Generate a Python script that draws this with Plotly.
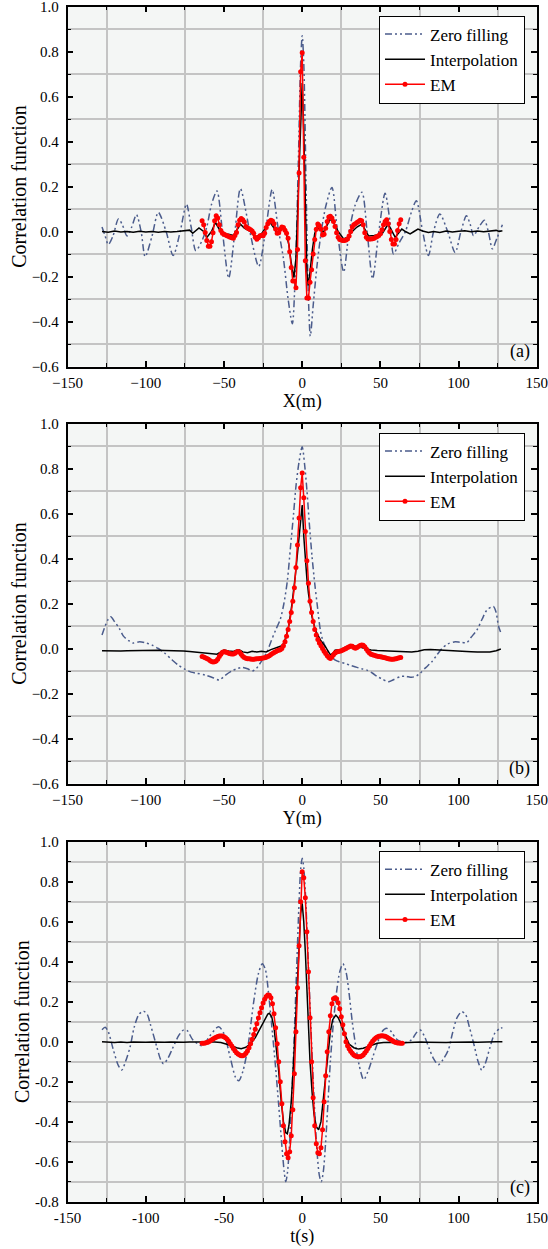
import plotly.graph_objects as go

# ---------------- data ----------------
# Panel (a): X(m)
zf_a_x = [-128, -126, -124, -121, -117.5, -115, -112, -109, -106, -103,
          -100.4, -96, -92, -87, -82.5, -78, -74, -71, -68, -64,
          -61, -58, -54.5, -51, -47, -43, -39.5, -33.5, -27.8, -23.5,
          -19.2, -15.5, -12, -9, -6.3, -4.5, -2.5, -1, 0, 1,
          2.5, 4, 5.2, 7, 9.5, 12, 15, 19, 22.5, 26.5,
          30, 34, 38.2, 41.5, 45, 49, 53, 56, 58.4, 62,
          66, 70, 73, 77, 80.7, 84, 88, 93, 97.8, 101.5,
          105, 107.5, 109.5, 113, 116.5, 119, 121.6, 124.5, 128]
zf_a_y = [0.02, -0.02, -0.058, -0.02, 0.056, 0.03, -0.02, 0.02, 0.075, 0.0,
          -0.112, -0.02, 0.085, 0.0, -0.107, 0.0, 0.122, 0.02, -0.085, -0.04,
          0.02, 0.12, 0.18, 0.0, -0.207, 0.0, 0.19, 0.0, -0.155, 0.0,
          0.186, 0.02, -0.12, -0.3, -0.41, -0.2, 0.3, 0.75, 0.87, 0.75,
          0.2, -0.3, -0.465, -0.33, -0.15, -0.01, 0.11, 0.196, 0.0, -0.18,
          0.0, 0.12, 0.174, 0.0, -0.21, 0.0, 0.17, 0.05, -0.1, -0.05,
          0.0, 0.09, 0.137, 0.0, -0.107, 0.0, 0.078, 0.0, -0.093, 0.0,
          0.07, 0.03, -0.019, 0.02, 0.05, 0.0, -0.077, -0.03, 0.03]

ip_a_x = [-128, -124, -120, -116, -112, -108, -104, -100, -96, -92,
          -88, -84, -80, -76, -72, -70, -68, -66, -63, -61,
          -58, -55.5, -53, -51, -47, -44, -41.5, -39.5, -37, -33,
          -30, -26, -22.5, -20.5, -18.5, -16, -14, -12.5, -10.5, -8.5,
          -7, -5.3, -4, -2.5, -1, 0, 1, 2, 3, 3.8,
          5, 6.5, 8, 9.5, 11, 13.5, 16, 18, 20.5, 23,
          26.5, 29, 32, 35, 38.2, 40.5, 42.5, 46, 51, 55,
          57.5, 59.5, 61.5, 63.7, 66, 69, 71.5, 74, 77, 80.7,
          84, 88, 92, 96, 100, 104, 108, 112, 116, 120,
          124, 126, 128]
ip_a_y = [0.0, -0.003, 0.002, -0.002, 0.0, -0.003, 0.001, -0.002, 0.0, -0.003,
          0.0, -0.002, 0.0, 0.004, 0.006, -0.008, 0.002, 0.016, 0.0, -0.026,
          0.0, 0.04, 0.01, -0.011, -0.012, -0.018, 0.01, 0.032, 0.015, 0.0,
          -0.026, -0.01, 0.025, 0.04, 0.02, -0.011, 0.012, 0.021, 0.0, -0.06,
          -0.14, -0.205, -0.12, 0.15, 0.5, 0.66, 0.45, 0.05, -0.18, -0.24,
          -0.18, -0.08, -0.01, 0.022, 0.01, -0.004, 0.03, 0.055, 0.035, 0.0,
          -0.033, -0.025, 0.0, 0.02, 0.033, 0.005, -0.02, -0.018, -0.011, 0.033,
          0.0, -0.026, -0.008, 0.011, 0.0, -0.011, 0.0, 0.011, 0.002, -0.004,
          0.0, -0.004, 0.002, -0.002, 0.001, 0.003, -0.001, 0.002, -0.001, 0.002,
          0.005, 0.0, 0.003]

em_a_x = list(range(-64, 64))
em_a_y = [0.048, 0.03, -0.004, -0.04, -0.065, -0.065, -0.045, -0.005, 0.048, 0.07,
          0.06, 0.03, 0.005, -0.008, -0.012, -0.016, -0.019, -0.022, -0.026, -0.028,
          -0.03, -0.018, -0.004, 0.03, 0.05, 0.058, 0.052, 0.042, 0.022, 0.016,
          0.012, 0.008, 0.002, -0.008, -0.025, -0.034, -0.028, -0.019, -0.018, -0.019,
          -0.008, 0.018, 0.035, 0.045, 0.05, 0.047, 0.035, 0.011, -0.008, -0.005,
          0.01, 0.02, 0.018, 0.006, -0.008, -0.03, -0.09, -0.16, -0.22, -0.22,
          -0.25, -0.08, 0.26, 0.71, 0.795, 0.33, -0.13, -0.295, -0.295, -0.225,
          -0.17, -0.1, -0.035, 0.01, 0.033, 0.026, 0.01, -0.015, -0.012, 0.015,
          0.045, 0.065, 0.068, 0.06, 0.045, 0.022, -0.005, -0.025, -0.035, -0.038,
          -0.04, -0.04, -0.038, -0.033, -0.02, 0.0, 0.02, 0.03, 0.035, 0.04,
          0.045, 0.05, 0.048, 0.03, -0.005, -0.025, -0.033, -0.033, -0.033, -0.032,
          -0.03, -0.026, -0.022, -0.018, -0.01, 0.008, 0.03, 0.045, 0.052, 0.035,
          0.0, -0.035, -0.055, -0.055, -0.035, 0.005, 0.035, 0.052]

# Panel (b): Y(m)
zf_b_x = [-128, -126, -124, -122.4, -120, -117, -114.3, -111, -108, -104,
          -100, -96, -92, -88, -83.3, -79, -74.8, -71, -67.3, -62,
          -57, -53, -49, -45, -41, -38.5, -35, -32, -29.5, -27.6,
          -25, -22.4, -20, -17, -14, -11.7, -9.5, -7.5, -5.5, -4,
          -2, 0, 1.5, 3, 4.5, 6.3, 8, 9.5, 11.6, 13,
          14.8, 18, 21.2, 24, 27.5, 31, 35, 38, 41.4, 45,
          48, 51, 55, 58, 62.7, 66, 70, 73, 75.4, 79,
          82.9, 86, 89.3, 93, 97.8, 101, 105.3, 108, 111.7, 115,
          118, 121, 122.4, 124, 125.5, 127]
zf_b_y = [0.06, 0.1, 0.13, 0.141, 0.12, 0.09, 0.055, 0.035, 0.024, 0.03,
          0.025, 0.015, 0.0, -0.02, -0.05, -0.075, -0.093, -0.105, -0.11, -0.118,
          -0.13, -0.14, -0.118, -0.1, -0.088, -0.084, -0.09, -0.1, -0.09, -0.073,
          -0.045, -0.014, 0.03, 0.082, 0.13, 0.2, 0.3, 0.45, 0.6, 0.72,
          0.83, 0.897, 0.82, 0.705, 0.56, 0.408, 0.29, 0.2, 0.082, 0.04,
          0.008, -0.03, -0.052, -0.06, -0.067, -0.075, -0.084, -0.09, -0.096, -0.11,
          -0.125, -0.135, -0.148, -0.14, -0.125, -0.123, -0.128, -0.122, -0.11, -0.085,
          -0.059, -0.03, 0.0, 0.02, 0.03, 0.028, 0.027, 0.05, 0.082, 0.13,
          0.17, 0.185, 0.186, 0.16, 0.1, 0.07]

ip_b_x = [-128, -124, -120, -116, -112, -108, -104, -100, -96, -92,
          -88, -84, -80, -76, -72, -68, -64, -61, -57, -54.5,
          -52, -50, -47, -44, -42, -40, -38, -35, -32, -29,
          -26, -23, -20, -18, -15, -13, -11.7, -10, -8.5, -6.5,
          -4.3, -3, -2, -1, 0, 1, 2, 3, 4, 5,
          6.3, 8.4, 11.6, 14.8, 16.5, 18, 19.5, 21, 23, 25,
          27.5, 30, 32, 34, 36, 38, 40, 44, 48, 53,
          58, 62, 66, 70, 74, 78, 82, 86, 91, 96,
          100, 104, 108, 112, 116, 120, 124, 127]
ip_b_y = [-0.01, -0.011, -0.012, -0.011, -0.01, -0.009, -0.009, -0.008, -0.008, -0.008,
          -0.009, -0.009, -0.01, -0.011, -0.013, -0.016, -0.019, -0.021, -0.024, -0.025,
          -0.015, -0.007, -0.011, -0.013, -0.008, -0.007, -0.015, -0.019, -0.012, -0.016,
          -0.012, -0.015, -0.005, 0.0, 0.005, 0.012, 0.025, 0.06, 0.105, 0.2,
          0.33, 0.42, 0.5, 0.59, 0.638, 0.5, 0.39, 0.31, 0.245, 0.19,
          0.14, 0.082, 0.038, 0.008, -0.012, -0.028, -0.022, -0.008, -0.006, -0.004,
          0.006, 0.012, 0.015, 0.01, 0.008, 0.004, 0.0, -0.007, -0.009, -0.01,
          -0.013, -0.015, -0.013, -0.016, -0.012, -0.006, -0.004, -0.006, -0.007, -0.009,
          -0.01, -0.012, -0.014, -0.015, -0.017, -0.016, -0.01, -0.002]

em_b_x = list(range(-64, 64))
em_b_y = [-0.036, -0.038, -0.041, -0.044, -0.048, -0.053, -0.058, -0.06, -0.059, -0.055,
          -0.048, -0.036, -0.025, -0.017, -0.014, -0.015, -0.018, -0.021, -0.023, -0.024,
          -0.024, -0.021, -0.016, -0.013, -0.017, -0.026, -0.034, -0.04, -0.043, -0.045,
          -0.046, -0.047, -0.048, -0.048, -0.047, -0.046, -0.045, -0.044, -0.043, -0.042,
          -0.041, -0.039, -0.036, -0.032, -0.027, -0.022, -0.018, -0.014, -0.01, -0.008,
          -0.006, 0.0, 0.012, 0.03, 0.055, 0.085, 0.12, 0.16, 0.21, 0.27,
          0.36, 0.46, 0.58, 0.715, 0.78, 0.67, 0.52, 0.39, 0.29, 0.21,
          0.16, 0.12, 0.085, 0.06, 0.04, 0.025, 0.012, 0.0, -0.012, -0.022,
          -0.032, -0.04, -0.044, -0.038, -0.028, -0.02, -0.015, -0.013, -0.012, -0.01,
          -0.007, -0.003, 0.0, 0.004, 0.008, 0.011, 0.01, 0.005, 0.001, 0.004,
          0.009, 0.013, 0.016, 0.015, 0.008, -0.002, -0.012, -0.02, -0.025, -0.028,
          -0.03, -0.032, -0.034, -0.036, -0.037, -0.038, -0.04, -0.041, -0.043, -0.045,
          -0.047, -0.048, -0.048, -0.047, -0.045, -0.043, -0.041, -0.04]

# Panel (c): t(s)
zf_c_x = [-128, -126, -124, -120.7, -117.5, -115.4, -113, -110, -107.5, -104.5,
          -101.5, -99, -97, -93, -90.5, -88.7, -86, -83, -79, -76,
          -73.5, -70, -64, -59, -53.5, -50, -46, -42.5, -40.5, -38,
          -35, -31, -28, -25.5, -23.5, -21.5, -19, -17, -15, -13,
          -11.5, -10.5, -9.5, -8, -6.5, -5, -3.5, -2, -1, 0,
          1, 2, 3.5, 5, 6.5, 8, 9.5, 11, 12.2, 13.5,
          15, 16.5, 18, 20, 22, 24, 26, 28, 30, 32,
          34, 36.5, 39.3, 42, 45, 48, 51, 54, 57, 60,
          65, 70, 73, 75.5, 78, 81, 84, 87, 90, 93.5,
          96, 99, 102, 104.5, 107, 110, 112.5, 114.8, 117, 120,
          123, 126.5, 128]
zf_c_y = [0.06, 0.072, 0.05, -0.042, -0.12, -0.142, -0.1, -0.025, 0.07, 0.135,
          0.153, 0.135, 0.085, -0.025, -0.09, -0.11, -0.085, -0.035, 0.03, 0.058,
          0.055, 0.01, -0.02, 0.03, 0.075, 0.04, -0.08, -0.18, -0.195, -0.15,
          -0.04, 0.2, 0.34, 0.39, 0.36, 0.24, 0.04, -0.13, -0.32, -0.52,
          -0.65, -0.7, -0.66, -0.5, -0.25, 0.05, 0.38, 0.7, 0.86, 0.917,
          0.87, 0.75, 0.48, 0.18, -0.1, -0.35, -0.55, -0.67, -0.7, -0.65,
          -0.5, -0.3, -0.1, 0.1, 0.25, 0.35, 0.39, 0.35, 0.24, 0.1,
          -0.01, -0.12, -0.19, -0.15, -0.08, -0.01, 0.05, 0.067, 0.05, 0.015,
          -0.005, 0.01, 0.045, 0.058, 0.03, -0.03, -0.085, -0.115, -0.09, -0.04,
          0.04, 0.12, 0.15, 0.135, 0.07, -0.02, -0.1, -0.142, -0.11, -0.03,
          0.04, 0.067, 0.07]

ip_c_x = [-128, -124, -120, -116, -112, -108, -104, -100, -96, -92,
          -88, -84, -80, -76, -72, -68, -64, -60, -56, -52,
          -48, -45, -42, -39, -36, -33, -30, -27, -24, -22,
          -21, -19.5, -18, -16.5, -15, -13.5, -12, -10.5, -9.5, -8.5,
          -7, -5.5, -4, -2.5, -1, 0, 1, 2, 3, 4,
          5, 6.3, 7.5, 9, 10.5, 12, 13.5, 15, 16.5, 18,
          19.5, 21.5, 23, 24.5, 26, 28, 30, 33, 36, 39,
          42, 45, 48, 52, 56, 60, 64, 68, 72, 76,
          80, 84, 88, 92, 96, 100, 104, 108, 112, 116,
          120, 124, 128]
ip_c_y = [0.0, -0.003, -0.004, -0.002, -0.004, -0.002, -0.004, -0.003, -0.002, -0.004,
          -0.003, -0.002, -0.004, -0.003, -0.002, -0.002, -0.001, 0.0, -0.001, -0.004,
          -0.012, -0.02, -0.03, -0.035, -0.028, -0.01, 0.02, 0.065, 0.115, 0.138,
          0.142, 0.125, 0.07, -0.03, -0.15, -0.29, -0.4, -0.455, -0.46, -0.42,
          -0.3, -0.1, 0.15, 0.42, 0.64, 0.692, 0.6, 0.45, 0.25, 0.07,
          -0.1, -0.25, -0.36, -0.425, -0.44, -0.4, -0.29, -0.16, -0.04, 0.05,
          0.11, 0.133, 0.12, 0.095, 0.06, 0.02, -0.012, -0.03, -0.037, -0.033,
          -0.024, -0.015, -0.008, -0.004, -0.002, -0.003, -0.005, -0.003, -0.004, -0.002,
          -0.003, -0.004, -0.002, -0.004, -0.003, -0.002, -0.003, -0.002, -0.003, -0.001,
          -0.002, 0.0, 0.0]

em_c_x = list(range(-64, 65))
em_c_y = [-0.008, -0.008, -0.006, -0.004, -0.001, 0.003, 0.008, 0.013, 0.018, 0.022,
          0.026, 0.028, 0.029, 0.028, 0.025, 0.02, 0.012, 0.002, -0.01, -0.022,
          -0.034, -0.045, -0.055, -0.062, -0.067, -0.07, -0.07, -0.066, -0.058, -0.046,
          -0.03, -0.01, 0.012, 0.036, 0.062, 0.09, 0.118, 0.145, 0.17, 0.193,
          0.212, 0.226, 0.233, 0.232, 0.22, 0.19, 0.14, 0.07, -0.01, -0.1,
          -0.2, -0.31, -0.42, -0.5, -0.56, -0.58, -0.55, -0.47, -0.34, -0.16,
          0.05, 0.27, 0.48, 0.7, 0.85, 0.82, 0.72, 0.55, 0.35, 0.12,
          -0.1, -0.28, -0.42, -0.51, -0.555, -0.56, -0.53, -0.44, -0.3, -0.17,
          -0.05, 0.05, 0.13, 0.19, 0.215, 0.22, 0.215, 0.195, 0.165, 0.125,
          0.085, 0.04, 0.0, -0.02, -0.035, -0.048, -0.058, -0.066, -0.071, -0.074,
          -0.075, -0.075, -0.072, -0.066, -0.057, -0.046, -0.034, -0.021, -0.009, 0.002,
          0.011, 0.018, 0.023, 0.027, 0.029, 0.03, 0.029, 0.027, 0.023, 0.018,
          0.013, 0.008, 0.003, -0.001, -0.004, -0.006, -0.007, -0.008, -0.008]

# ticks / labels
x_tickvals = [-150, -100, -50, 0, 50, 100, 150]
x_ticktext_ab = ["\u2212150", "\u2212100", "\u221250", "0", "50", "100", "150"]
x_ticktext_c = ["-150", "-100", "-50", "0", "50", "100", "150"]
y_tickvals_ab = [-0.6, -0.4, -0.2, 0.0, 0.2, 0.4, 0.6, 0.8, 1.0]
y_ticktext_ab = ["\u22120.6", "\u22120.4", "\u22120.2", "0.0", "0.2", "0.4", "0.6", "0.8", "1.0"]
y_tickvals_c = [-0.8, -0.6, -0.4, -0.2, 0.0, 0.2, 0.4, 0.6, 0.8, 1.0]
y_ticktext_c = ["-0.8", "-0.6", "-0.4", "-0.2", "0.0", "0.2", "0.4", "0.6", "0.8", "1.0"]
x_titles = ["X(m)", "Y(m)", "t(s)"]
panel_tags = ["(a)", "(b)", "(c)"]
series_names = ["Zero filling", "Interpolation", "EM"]

# ---------------- styling ----------------
FONT = "Times New Roman, Liberation Serif, serif"
ZF_COLOR = "#4b5c8c"
ZF_DASH = "7px,3px,2px,3px,2px,3px"
W, H = 548, 1249
X0, X1 = 67.6, 536.8
panel_tops = [6.5, 423.5, 841.7]
PANEL_H = 360.0

fig = go.Figure()

data = [
    (zf_a_x, zf_a_y, ip_a_x, ip_a_y, em_a_x, em_a_y),
    (zf_b_x, zf_b_y, ip_b_x, ip_b_y, em_b_x, em_b_y),
    (zf_c_x, zf_c_y, ip_c_x, ip_c_y, em_c_x, em_c_y),
]

for i, (zx, zy, ix, iy, ex, ey) in enumerate(data):
    sfx = "" if i == 0 else str(i + 1)
    xa, ya, lg = "x" + sfx, "y" + sfx, "legend" + sfx
    fig.add_trace(go.Scatter(x=zx, y=zy, mode="lines", name=series_names[0],
                             line=dict(color=ZF_COLOR, width=1.5, dash=ZF_DASH, shape="spline", smoothing=0.8),
                             xaxis=xa, yaxis=ya, legend=lg))
    fig.add_trace(go.Scatter(x=ix, y=iy, mode="lines", name=series_names[1],
                             line=dict(color="black", width=1.5),
                             xaxis=xa, yaxis=ya, legend=lg))
    fig.add_trace(go.Scatter(x=ex, y=ey, mode="lines+markers", name=series_names[2],
                             line=dict(color="#ff0000", width=1.5),
                             marker=dict(color="#ff0000", size=5),
                             xaxis=xa, yaxis=ya, legend=lg))

layout = dict(
    template="none",
    width=W, height=H,
    margin=dict(l=0, r=0, t=0, b=0, autoexpand=False),
    paper_bgcolor="white",
    plot_bgcolor="#f4f6f5",
    font=dict(family=FONT, color="black", size=15),
    showlegend=True,
)

for i in range(3):
    sfx = "" if i == 0 else str(i + 1)
    top = panel_tops[i]
    bot = top + PANEL_H
    ydom = [1 - bot / H, 1 - top / H]
    xdom = [X0 / W, X1 / W]
    is_c = (i == 2)
    layout["xaxis" + sfx] = dict(
        domain=xdom, anchor="y" + sfx, range=[-150, 150], automargin=False,
        tickmode="array", tickvals=x_tickvals,
        ticktext=x_ticktext_c if is_c else x_ticktext_ab,
        showgrid=False, zeroline=False, ticklabeloverflow="allow",
        showline=True, linecolor="black", linewidth=1.5, mirror="ticks",
        ticks="inside", ticklen=6, tickwidth=1.5, tickcolor="black",
        minor=dict(tickmode="array", tickvals=[-125, -75, -25, 25, 75, 125],
                   ticks="inside", ticklen=4, tickwidth=1.2, tickcolor="black",
                   showgrid=True, gridcolor="#c4c4c4", gridwidth=1.5),
        tickfont=dict(family=FONT, size=15, color="black"),
        ticklabelstandoff=2,
        title=dict(text=x_titles[i], font=dict(family=FONT, size=18, color="black"), standoff=4),
    )
    yt_vals = y_tickvals_c if is_c else y_tickvals_ab
    yt_text = y_ticktext_c if is_c else y_ticktext_ab
    yr = [-0.8, 1.0] if is_c else [-0.6, 1.0]
    minor_y = [-0.7, -0.5, -0.3, -0.1, 0.1, 0.3, 0.5, 0.7, 0.9] if is_c else [-0.5, -0.3, -0.1, 0.1, 0.3, 0.5, 0.7, 0.9]
    layout["yaxis" + sfx] = dict(
        domain=ydom, anchor="x" + sfx, range=yr, automargin=False,
        tickmode="array", tickvals=yt_vals, ticktext=yt_text,
        showgrid=False, zeroline=False, ticklabeloverflow="allow",
        showline=True, linecolor="black", linewidth=1.5, mirror="ticks",
        ticks="inside", ticklen=6, tickwidth=1.5, tickcolor="black",
        minor=dict(tickmode="array", tickvals=minor_y,
                   ticks="inside", ticklen=4, tickwidth=1.2, tickcolor="black",
                   showgrid=True, gridcolor="#c4c4c4", gridwidth=1.5),
        tickfont=dict(family=FONT, size=15, color="black"),
        ticklabelstandoff=4,
        title=dict(text="Correlation function", font=dict(family=FONT, size=20, color="black"), standoff=0),
    )
    layout["legend" + sfx] = dict(
        x=379 / W, y=1 - (top + 9) / H, xanchor="left", yanchor="top",
        xref="paper", yref="paper",
        bgcolor="white", bordercolor="black", borderwidth=1,
        font=dict(family=FONT, size=17, color="black"), itemwidth=40, tracegroupgap=0,
    )

fig.update_layout(**layout)

for i in range(3):
    sfx = "" if i == 0 else str(i + 1)
    fig.add_annotation(text=panel_tags[i], xref="x" + sfx + " domain", yref="y" + sfx + " domain",
                       x=0.99, y=0.006, xanchor="right", yanchor="bottom", showarrow=False,
                       font=dict(family=FONT, size=18, color="black"))

fig.write_html("out.html", config={"displayModeBar": False},
               post_script="document.body.style.margin='0px';")
